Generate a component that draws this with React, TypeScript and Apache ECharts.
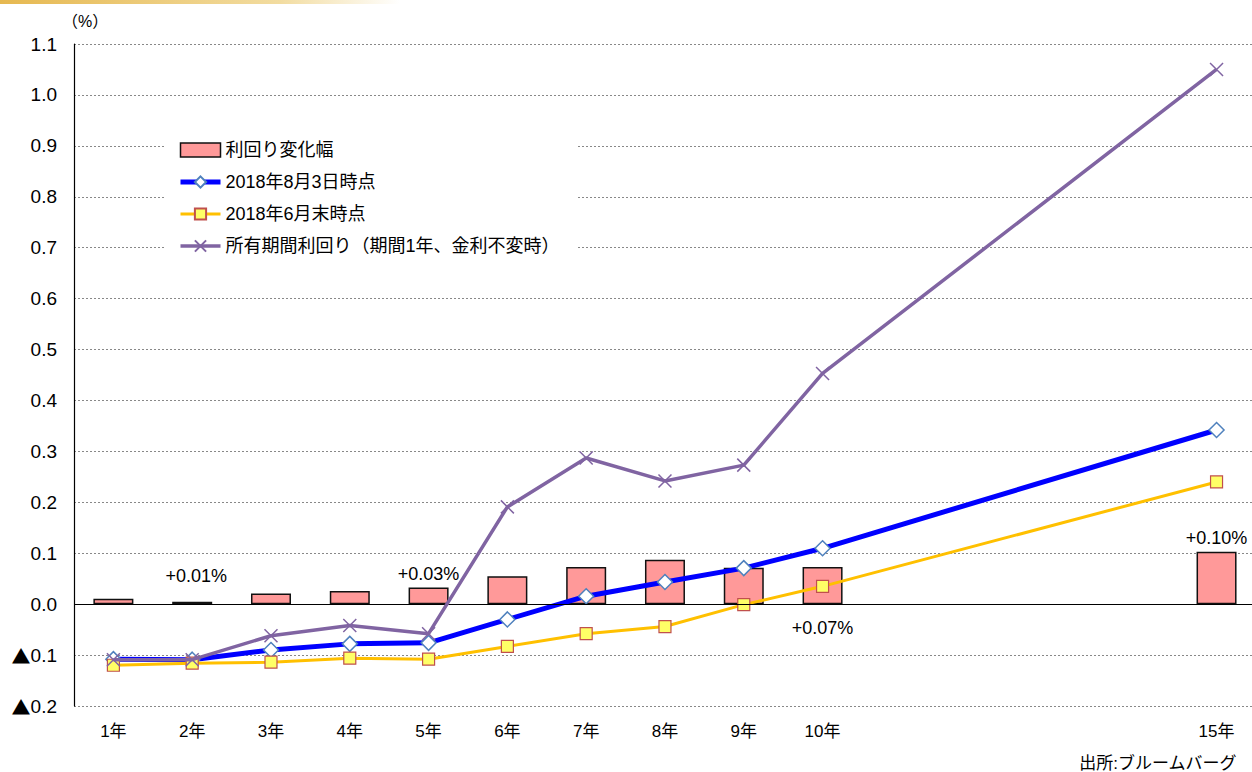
import React, { useEffect, useRef } from "react";
import * as echarts from "echarts";

const years = [1, 2, 3, 4, 5, 6, 7, 8, 9, 10, 15];
const changeValues = [0.0104, 0.0045, 0.021, 0.026, 0.0325, 0.0546, 0.073, 0.087, 0.0715, 0.073, 0.103];
const changeLabels = ["", "+0.01%", "", "", "+0.03%", "", "", "", "", "+0.07%", "+0.10%"];
const aug3Values = [-0.108, -0.109, -0.09, -0.078, -0.076, -0.030, 0.0156, 0.0435, 0.0708, 0.1097, 0.342];
const juneValues = [-0.120, -0.116, -0.114, -0.106, -0.108, -0.083, -0.058, -0.044, -0.001, 0.035, 0.240];
const holdingValues = [-0.109, -0.109, -0.062, -0.042, -0.058, 0.191, 0.287, 0.242, 0.273, 0.453, 1.05];
const seriesNames = ["利回り変化幅", "2018年8月3日時点", "2018年6月末時点", "所有期間利回り（期間1年、金利不変時）"];

const FONT = "'Liberation Sans', Arial, 'Noto Sans CJK JP', sans-serif";
const CJK = "'Noto Sans CJK JP', sans-serif";
const CROSS = "path://M0,0L10,10M10,0L0,10";

export default function App() {
  const ref = useRef<HTMLDivElement>(null);
  useEffect(() => {
    if (!ref.current) return;
    const chart = echarts.init(ref.current, undefined, { renderer: "svg" });
    const barData = years.map((y, i) => {
      const lbl = changeLabels[i];
      const item: any = { value: [y, changeValues[i]] };
      if (lbl) {
        const below = i === 9;
        item.label = {
          show: true,
          formatter: lbl,
          position: below ? "bottom" : "top",
          distance: below ? 15 : i === 1 ? 17 : 5,
          offset: i === 1 ? [4, 0] : [0, 0],
          fontSize: 18,
          color: "#000",
          fontFamily: FONT,
        };
      }
      return item;
    });
    const toPairs = (arr: number[]) => years.map((y, i) => [y, arr[i]]);
    chart.setOption({
      animation: false,
      textStyle: { fontFamily: FONT },
      grid: { left: 74, right: 0, top: 44, bottom: 66, containLabel: false },
      graphic: [
        {
          type: "rect",
          shape: { x: 0, y: 0, width: 400, height: 4 },
          style: {
            fill: new echarts.graphic.LinearGradient(0, 0, 1, 0, [
              { offset: 0, color: "#E6B850" },
              { offset: 0.7, color: "#F2DCA0" },
              { offset: 1, color: "#FFFFFF" },
            ]),
          },
          silent: true,
        },
        {
          type: "text",
          left: 62,
          top: 13,
          style: { text: "（%）", fontSize: 16, fill: "#000", fontFamily: FONT },
        },
        {
          type: "text",
          right: 15,
          top: 755,
          style: { text: "出所:ブルームバーグ", fontSize: 17, fill: "#000", fontFamily: FONT },
        },
      ],
      legend: {
        orient: "vertical",
        left: 166,
        top: 131,
        padding: [10, 18, 10, 12],
        backgroundColor: "#ffffff",
        itemWidth: 40,
        itemHeight: 14,
        itemGap: 14,
        textStyle: { fontSize: 18, color: "#000", fontFamily: FONT },
        data: [
          { name: seriesNames[0], icon: "rect", itemStyle: { color: "#FF9999", borderColor: "#111", borderWidth: 1.5 } },
          { name: seriesNames[1], lineStyle: { width: 5, color: "#0000FF" } },
          { name: seriesNames[2], lineStyle: { width: 3, color: "#FFC000" } },
          { name: seriesNames[3], lineStyle: { width: 3.5, color: "#8064A2" } },
        ],
      },
      xAxis: {
        type: "value",
        min: 0.5,
        max: 15.45,
        axisLine: { show: false, onZero: false },
        axisTick: { show: false },
        splitLine: { show: false },
        axisLabel: {
          customValues: years,
          formatter: (v: number) => `${v}年`,
          fontSize: 17,
          color: "#000",
          margin: 17,
          fontFamily: FONT,
        },
      },
      yAxis: {
        type: "value",
        min: -0.2,
        max: 1.1,
        interval: 0.1,
        axisLine: { show: true, lineStyle: { color: "#000", width: 1.2 } },
        axisTick: { show: false },
        axisLabel: {
          fontSize: 19,
          color: "#000",
          margin: 17,
          fontFamily: FONT,
          rich: {
            tri: { fontSize: 19, fontFamily: CJK, color: "#000" },
          },
          formatter: (v: number) => {
            const r = Math.round(v * 10) / 10;
            return r < 0 ? `{tri|▲}${Math.abs(r).toFixed(1)}` : r.toFixed(1);
          },
        },
        splitLine: { show: true, lineStyle: { color: "#888", type: [2, 2], width: 1 } },
      },
      series: [
        {
          name: seriesNames[0],
          type: "bar",
          barWidth: 40,
          data: barData,
          itemStyle: { color: "#FF9999", borderColor: "#111", borderWidth: 1.5 },
          markLine: {
            silent: true,
            symbol: ["none", "none"],
            label: { show: false },
            lineStyle: { color: "#000", type: "solid", width: 1.2 },
            data: [{ yAxis: 0 }],
          },
          z: 2,
        },
        {
          name: seriesNames[1],
          type: "line",
          data: toPairs(aug3Values),
          symbol: "diamond",
          symbolSize: 15,
          lineStyle: { color: "#0000FF", width: 5 },
          itemStyle: { color: "#FFFFFF", borderColor: "#4F81BD", borderWidth: 1.5 },
          z: 3,
        },
        {
          name: seriesNames[2],
          type: "line",
          data: toPairs(juneValues),
          symbol: "rect",
          symbolSize: 12,
          lineStyle: { color: "#FFC000", width: 3 },
          itemStyle: { color: "#FFFF66", borderColor: "#C0504D", borderWidth: 1.2 },
          z: 4,
        },
        {
          name: seriesNames[3],
          type: "line",
          data: toPairs(holdingValues),
          symbol: CROSS,
          symbolSize: 13,
          lineStyle: { color: "#8064A2", width: 3.5 },
          itemStyle: { color: "none", borderColor: "#8064A2", borderWidth: 1.5 },
          z: 5,
        },
      ],
    });
    return () => chart.dispose();
  }, []);
  return <div ref={ref} style={{ position: "absolute", left: 0, top: 0, width: 1252, height: 772 }} />;
}
